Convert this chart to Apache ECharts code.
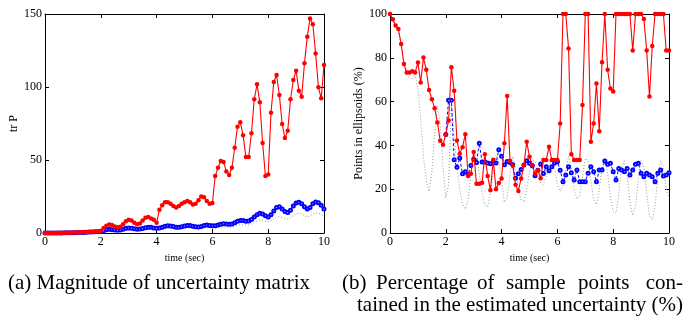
<!DOCTYPE html>
<html><head><meta charset="utf-8">
<script src="https://cdn.jsdelivr.net/npm/echarts@6/dist/echarts.min.js"></script>
<style>html,body{margin:0;padding:0;background:#fff}#c{width:689px;height:322px}</style>
</head><body><div id="c"></div>
<script>
// ---- data (sampled every 0.1 s, t = 0 .. 10) ----
const xTicks = [0, 2, 4, 6, 8, 10];
const yTicksA = [0, 50, 100, 150];
const yTicksB = [0, 20, 40, 60, 80, 100];

// (a) tr P
const redA = [0,0,0,0,0,0.1,0.1,0.1,0.2,0.2,0.3,0.3,0.4,0.5,0.6,0.7,0.8,0.9,1.0,1.2,1.5,
  3.5,5,5.8,5.5,4.5,4,4.2,6,8,9,8.5,7,6,6.5,8.5,10.5,11,10,9,7,
  16,19,21,21,20,18.5,17.5,18.5,20,21,22,21,19.5,20,22.5,25,24.5,22,20,20.5,
  39,44.7,49.3,48.6,42.2,39.7,44.7,58.4,72.8,75.8,67,52,52,68.3,91.6,101.8,89.5,61.6,39,40,
  82.4,103.4,108.2,94.5,74.7,65,70,91.6,104.8,111.2,97.5,93.4,116.2,134.5,147,143,123,99.8,92.3,115];
const blueA = [0,0,0,0,0,0,0,0.1,0.1,0.1,0.2,0.2,0.3,0.3,0.4,0.5,0.6,0.7,0.8,0.9,1.0,
  1.5,2.2,2.5,2.3,2.0,1.9,2.1,2.6,3.2,3.5,3.3,2.9,2.6,2.7,3.1,3.6,4.0,3.9,3.5,3.2,
  3.4,4.0,4.6,4.9,4.8,4.4,4.0,3.9,4.2,4.8,5.2,5.1,4.6,4.2,4.1,4.5,5.1,5.4,5.2,4.9,
  5.0,5.5,6.0,6.3,6.2,6.0,6.2,7.0,8.0,8.6,8.5,8.0,8.2,9.2,11.0,12.5,13.5,13.0,11.8,11.0,
  12.5,15.0,17.5,18.0,16.5,14.8,14.0,15.5,18.5,20.5,21.0,20.0,18.0,16.5,17.5,20.0,21.2,20.8,19.0,16.5];
const grayA = [0,0,0,0,0,0,0,0,0.1,0.1,0.1,0.2,0.2,0.3,0.3,0.4,0.4,0.5,0.6,0.7,0.8,
  1.0,1.3,1.5,1.5,1.4,1.3,1.4,1.6,1.9,2.1,2.0,1.8,1.7,1.8,2.0,2.3,2.5,2.4,2.2,2.1,
  2.2,2.5,2.8,3.0,2.9,2.7,2.6,2.6,2.8,3.1,3.3,3.2,3.0,2.8,2.8,3.0,3.3,3.5,3.4,3.3,
  3.4,3.6,3.9,4.1,4.0,3.9,4.1,4.6,5.2,5.6,5.5,5.3,5.5,6.2,7.3,8.3,8.9,8.7,8.0,7.6,
  8.3,9.6,11.0,11.3,10.6,9.8,9.5,10.3,12.0,13.2,13.5,13.0,11.8,11.0,11.6,13.0,13.8,13.6,12.7,11.5];

// (b) points in ellipsoids (%)
const redB = [100,97.6,94.7,93.2,86.3,77.2,73.3,73.3,73.9,73.3,77.8,68.7,80.1,74.5,65.3,61.1,57,50.5,42.1,40.3,45,
  51.4,75.7,64.9,42.2,36.2,39.2,45.1,26,27,37,22.5,22.5,23,36,26,19.5,33.4,20,22.8,24.9,
  41,62.6,33,30.7,22,19.2,24.9,31,41.7,34.8,31,27,28.7,25,33.3,33.3,39.4,33.3,33.3,33.3,
  50,100,100,84.3,36,33.3,33.3,33.3,58.4,100,100,41.7,50,68.3,46.5,78,100,74.5,66,64.6,
  100,100,100,100,100,100,83.3,100,100,100,97.7,83.3,62.3,85.4,100,100,100,100,83.3,83.3];
// blue coincides with (and is hidden under) red before t = 2.0 s
const blueB = [null,null,null,null,null,null,null,null,null,null,null,null,null,null,null,null,null,null,null,null,45,
  60.6,60.6,33.4,30,34.2,27,28,26.6,30.8,33.7,32.2,41,32.4,32.4,32,31.6,32.4,32,38,35,
  31.2,32.7,32.2,31.2,25,27,29,31,33,31.8,30.7,26.1,28.7,31.5,27.2,30.3,28.4,30.3,32,32.5,
  28.7,23.4,26.5,30.3,27.5,24.2,28.8,23.4,23.4,23.4,27.3,30.3,28,23.4,28.8,28.8,32.9,31.4,31.8,28,
  24.2,29.5,28.8,28,29.5,26.5,28.8,31.4,31.8,27.3,25.7,27.3,26.5,25.7,23.4,27.3,28.8,26,26.5,27.5];
const grayB = [100,97,94,92,85,77,72,71,70,72,66,52,35,24,19,28,45,58,50,30,16,
  22,58,45,30,20,13,11,15,27,37,35,27,18,13,12,18,28,35,33,24,
  14,16,27,35,30,20,15,14,20,28,33,33,28,23,22,26,31,34,30,22,
  19,21,29,35,30,20,15.5,17,26,34,33,24,15,13,20,30,34,27,16,10,
  9,18,30,33,26,14,8,12,25,33,30,18,8,6,12,26,33,30,20,16];

const time = redA.map((_, i) => i / 10);
const pairs = arr => arr.map((v, i) => [time[i], v]);

const FONT = 'Liberation Serif';
function xAxes(gi) {
  const base = {gridIndex: gi, type: 'value', min: 0, max: 10, interval: 2,
    axisLine: {show: true, onZero: false, lineStyle: {color: '#000', width: 1}},
    axisTick: {show: true, inside: true, length: 4, lineStyle: {color: '#000'}},
    splitLine: {show: false}};
  return [
    Object.assign({}, base, {position: 'bottom',
      axisLabel: {color: '#000', fontFamily: FONT, fontSize: 12, margin: 3},
      name: 'time (sec)', nameLocation: 'middle', nameGap: 20,
      nameTextStyle: {color: '#000', fontFamily: FONT, fontSize: 10}}),
    Object.assign({}, base, {position: 'top', axisLabel: {show: false}})
  ];
}
function yAxes(gi, max, interval, name, gap) {
  const base = {gridIndex: gi, type: 'value', min: 0, max: max, interval: interval,
    axisLine: {show: true, onZero: false, lineStyle: {color: '#000', width: 1}},
    axisTick: {show: true, inside: true, length: 4, lineStyle: {color: '#000'}},
    splitLine: {show: false}};
  return [
    Object.assign({}, base, {position: 'left',
      axisLabel: {color: '#000', fontFamily: FONT, fontSize: 12, margin: 3},
      name: name, nameLocation: 'middle', nameGap: gap, nameRotate: 90,
      nameTextStyle: {color: '#000', fontFamily: FONT, fontSize: 12}}),
    Object.assign({}, base, {position: 'right', axisLabel: {show: false}})
  ];
}
function seriesSet(gi, red, blue, gray) {
  const xi = gi * 2, yi = gi * 2;
  return [
    {type: 'line', xAxisIndex: xi, yAxisIndex: yi, data: pairs(gray), symbol: 'none',
      lineStyle: {color: '#999', width: 1, type: [1, 2]}, silent: true, z: 1},
    {type: 'line', xAxisIndex: xi, yAxisIndex: yi, data: pairs(blue), symbol: 'emptyCircle', symbolSize: 3,
      connectNulls: false,
      itemStyle: {color: '#0000ff', borderColor: '#0000ff', borderWidth: 0.9},
      lineStyle: {color: '#0000ff', width: 1, type: [3, 2]}, silent: true, z: 2},
    {type: 'line', xAxisIndex: xi, yAxisIndex: yi, data: pairs(red), symbol: 'circle', symbolSize: 4.5,
      itemStyle: {color: '#ff0000'}, lineStyle: {color: '#ff0000', width: 1.1}, silent: true, z: 3}
  ];
}

const CAP = '21px "Liberation Serif"';
const chart = echarts.init(document.getElementById('c'), null, {renderer: 'canvas'});
chart.setOption({
  animation: false,
  backgroundColor: '#fff',
  grid: [
    {left: 45, top: 14, width: 279, height: 219},
    {left: 390, top: 14, width: 279, height: 219}
  ],
  xAxis: xAxes(0).concat(xAxes(1)),
  yAxis: yAxes(0, 150, 50, 'tr P', 18).concat(yAxes(1, 100, 20, 'Points in ellipsoids (%)', 25)),
  series: seriesSet(0, redA, blueA, grayA).concat(seriesSet(1, redB, blueB, grayB)),
  graphic: [
    {type: 'text', left: 8, top: 273, style: {text: '(a) Magnitude of uncertainty matrix', font: CAP, fill: '#000'}},
    {type: 'text', left: 342, top: 273, style: {text: '(b)', font: CAP, fill: '#000'}},
    {type: 'text', left: 376, top: 273, style: {text: 'Percentage', font: CAP, fill: '#000'}},
    {type: 'text', left: 477, top: 273, style: {text: 'of', font: CAP, fill: '#000'}},
    {type: 'text', left: 506, top: 273, style: {text: 'sample', font: CAP, fill: '#000'}},
    {type: 'text', left: 578, top: 273, style: {text: 'points', font: CAP, fill: '#000'}},
    {type: 'text', right: 6, top: 273, style: {text: 'con-', font: CAP, fill: '#000'}},
    {type: 'text', right: 6, top: 295, style: {text: 'tained in the estimated uncertainty (%)', font: CAP, fill: '#000'}}
  ]
});
</script></body></html>
